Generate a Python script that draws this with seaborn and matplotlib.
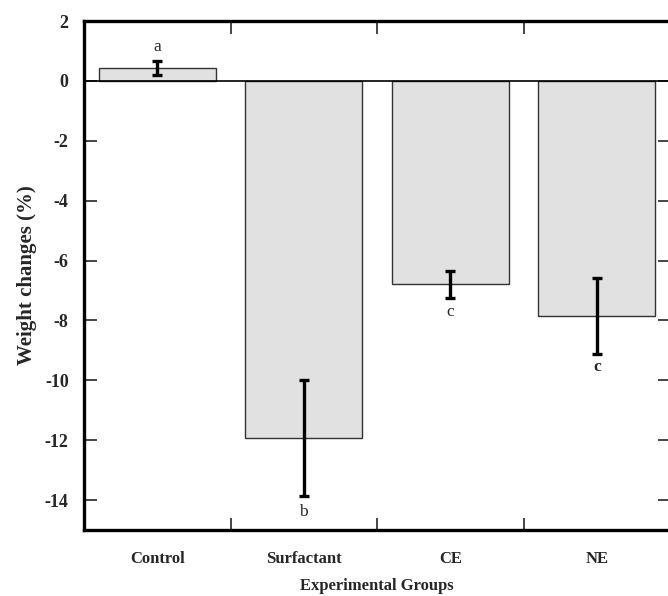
import numpy as np
import pandas as pd
import seaborn as sns
import matplotlib.pyplot as plt
from matplotlib.ticker import FixedLocator

groups = ["Control", "Surfactant", "CE", "NE"]
weight_change = [0.43, -11.93, -6.8, -7.85]
std_err = [0.23, 1.95, 0.44, 1.28]
letters = ["a", "b", "c", "c"]
letter_y = [1.13, -14.4, -7.73, -9.57]
letter_bold = [False, False, False, True]
y_ticks = [2, 0, -2, -4, -6, -8, -10, -12, -14]

df = pd.DataFrame({"group": groups, "change": weight_change})

sns.set_theme(style="white")
plt.rcParams["font.family"] = ["Liberation Serif", "DejaVu Serif"]

fig = plt.figure(figsize=(6.68, 5.96), dpi=100)
ax = fig.add_axes([84 / 668, 1 - 530 / 596, 586 / 668, 509 / 596])

sns.barplot(data=df, x="group", y="change", color="#e1e1e1", edgecolor="#333333",
            linewidth=1.0, width=0.8, saturation=1, ax=ax, zorder=2)
ax.axhline(0, color="black", lw=1.2, zorder=3)
ax.errorbar(np.arange(len(groups)), weight_change, yerr=std_err, fmt="none",
            ecolor="black", elinewidth=2.4, capsize=3.8, capthick=2.4, zorder=4)

for i, (t, yy, b) in enumerate(zip(letters, letter_y, letter_bold)):
    ax.text(i, yy, t, ha="center", va="center", fontsize=12.5,
            fontweight="bold" if b else "normal")

ax.set_ylim(-15, 2)
ax.set_xlim(-0.5, 3.5)
ax.set_yticks(y_ticks)
ax.set_yticklabels([str(v) for v in y_ticks], fontweight="bold", fontsize=13)
ax.xaxis.set_minor_locator(FixedLocator([0.5, 1.5, 2.5]))
ax.tick_params(axis="x", which="major", length=0, pad=15, labelsize=12)
ax.tick_params(axis="x", which="minor", direction="in", length=9, width=1.2,
               top=True, bottom=True)
ax.tick_params(axis="y", which="major", direction="in", length=9, width=1.2,
               left=True, right=True, pad=11)
for lab in ax.get_xticklabels():
    lab.set_fontweight("bold")

ax.set_xlabel("Experimental Groups", fontsize=12, fontweight="bold", labelpad=8)
ax.set_ylabel("Weight changes (%)", fontsize=15, fontweight="bold", labelpad=6)

for s in ax.spines.values():
    s.set_linewidth(2.4)
    s.set_color("black")

fig.savefig("out.png", dpi=100)
